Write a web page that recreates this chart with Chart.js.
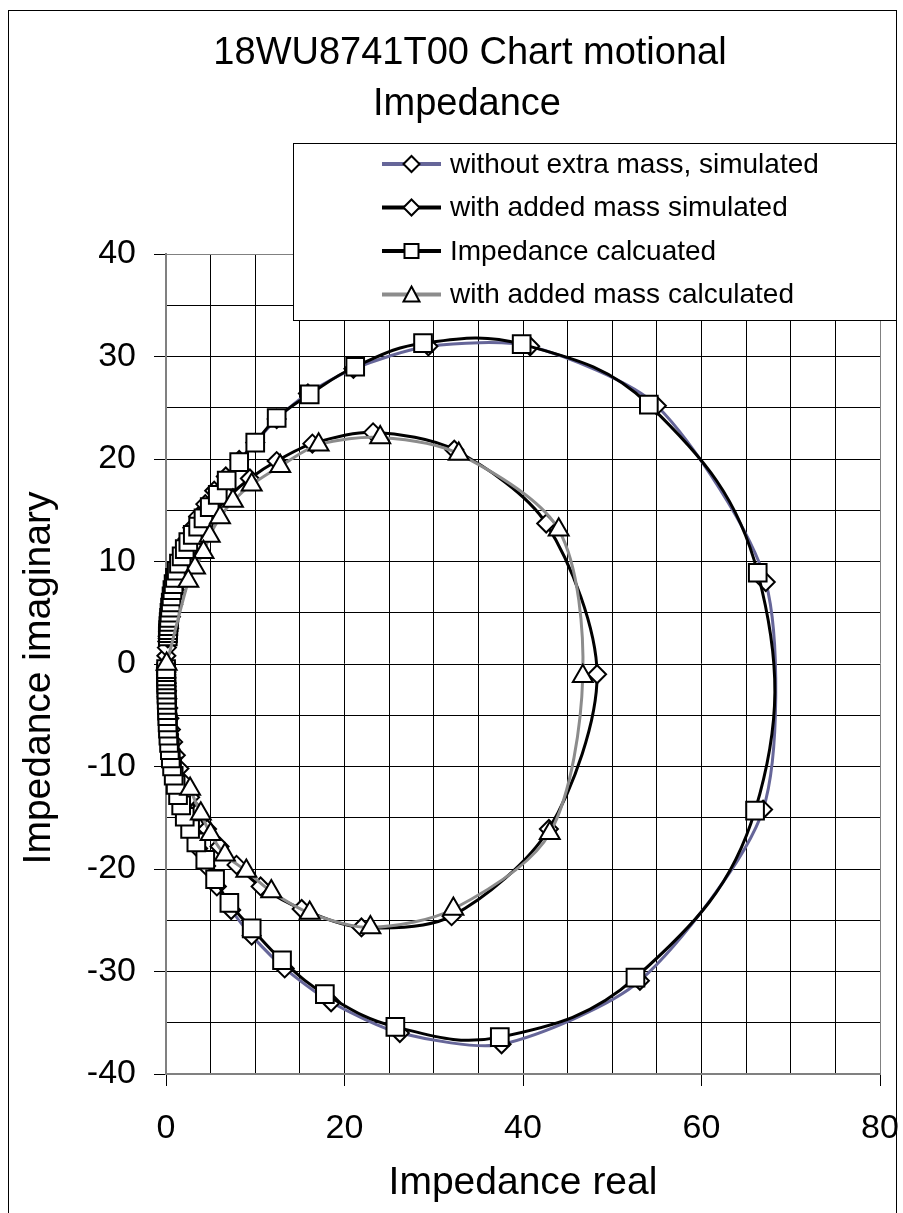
<!DOCTYPE html>
<html>
<head>
<meta charset="utf-8">
<title>18WU8741T00 Chart motional Impedance</title>
<script src="https://cdn.jsdelivr.net/npm/chart.js@4.4.1/dist/chart.umd.min.js"></script>
<style>
  html, body { margin: 0; padding: 0; background: #ffffff; }
  #wrap { width: 903px; height: 1213px; }
</style>
</head>
<body>
<div id="wrap"><canvas id="impChart" width="903" height="1213"></canvas></div>
<script>
const chartTitle = ["18WU8741T00 Chart motional", "Impedance"];
const xAxisTitle = "Impedance real";
const yAxisTitle = "Impedance imaginary";
const seriesNames = [
  "without extra mass, simulated",
  "with added mass simulated",
  "Impedance calcuated",
  "with added mass calculated"
];
const xLabelValues = [0, 20, 40, 60, 80];
const yLabelValues = [-40, -30, -20, -10, 0, 10, 20, 30, 40];

// [real, imaginary] pairs, in sweep order
const noMassSim = [
  [0.15, 2.2], [0.19, 2.7], [0.24, 3.2], [0.3, 3.8], [0.37, 4.4], [0.46, 5.1], [0.57, 5.8],
  [0.7, 6.6], [0.86, 7.4], [1.05, 8.3], [1.3, 9.2], [1.6, 10.2], [1.95, 11.2], [2.4, 12.2],
  [2.95, 13.3], [3.6, 14.4], [4.4, 15.6], [5.4, 16.9], [6.7, 18.3], [8.2, 19.9], [10.0, 21.6],
  [12.4, 23.9], [15.9, 26.4], [21.0, 28.8], [29.4, 31.0], [40.8, 31.0], [55.0, 25.2], [67.2, 8.0],
  [66.9, -14.2], [53.1, -30.9], [37.6, -37.1], [26.2, -36.0], [18.5, -33.0], [13.3, -29.7],
  [9.6, -26.5], [7.3, -24.0], [5.7, -21.7], [4.5, -19.7], [3.6, -18.0], [2.9, -16.5], [2.3, -15.2],
  [1.85, -14.0], [1.5, -12.9], [1.2, -11.9], [0.97, -11.0], [0.78, -10.1], [0.63, -9.2], [0.5, -8.4],
  [0.4, -7.6], [0.32, -6.9], [0.25, -6.2], [0.2, -5.5], [0.16, -4.9], [0.12, -4.3], [0.1, -3.7],
  [0.08, -3.2], [0.06, -2.7], [0.05, -2.2], [0.04, -1.8], [0.03, -1.4], [0.02, -1.0], [0.02, -0.7],
  [0.01, -0.4]
];

const addedMassSim = [
  [0.04, 0.8], [0.1, 1.6], [0.2, 2.5], [0.35, 3.5], [0.55, 4.6], [0.8, 5.8], [1.15, 7.1],
  [1.6, 8.5], [2.2, 10.0], [3.0, 11.5], [4.0, 13.0], [5.3, 14.6], [7.0, 16.3], [9.4, 18.1],
  [12.4, 19.8], [16.4, 21.5], [23.2, 22.6], [32.3, 20.9], [42.6, 13.7], [48.3, -1.0],
  [42.9, -16.1], [32.0, -24.6], [21.9, -25.7], [15.2, -23.9], [10.6, -21.7], [7.9, -19.6],
  [6.0, -17.8], [4.6, -16.1], [3.5, -14.5], [2.7, -13.0], [2.0, -11.6], [1.5, -10.2], [1.1, -8.9],
  [0.8, -7.6], [0.55, -6.4], [0.38, -5.3], [0.25, -4.3], [0.16, -3.4], [0.1, -2.6], [0.06, -1.9],
  [0.04, -1.3], [0.03, -0.8], [0.02, -0.4]
];

const impCalc = [
  [0.2, 2.7], [0.22, 3.0], [0.24, 3.3], [0.27, 3.7], [0.3, 4.1], [0.34, 4.5], [0.39, 5.0],
  [0.45, 5.5], [0.53, 6.0], [0.62, 6.6], [0.72, 7.2], [0.85, 7.8], [1.0, 8.4], [1.2, 9.1],
  [1.45, 9.8], [1.75, 10.5], [2.1, 11.2], [2.5, 11.9], [3.0, 12.6], [3.6, 13.4], [4.2, 14.2],
  [4.9, 15.3], [5.8, 16.5], [6.8, 17.9], [8.2, 19.7], [10.0, 21.6], [12.4, 24.0], [16.1, 26.3],
  [21.2, 29.0], [28.8, 31.3], [39.85, 31.2], [54.1, 25.3], [66.3, 8.9], [66.0, -14.3],
  [52.6, -30.6], [37.4, -36.4], [25.7, -35.4], [17.8, -32.2], [13.0, -28.9], [9.6, -25.8],
  [7.1, -23.3], [5.5, -21.0], [4.4, -19.1], [3.4, -17.4], [2.7, -16.1], [2.1, -14.9], [1.7, -13.8],
  [1.35, -12.8], [1.08, -11.8], [0.86, -10.9], [0.68, -10.0], [0.54, -9.2], [0.43, -8.4],
  [0.34, -7.7], [0.27, -7.0], [0.22, -6.3], [0.18, -5.7], [0.15, -5.1], [0.12, -4.5], [0.1, -4.0],
  [0.08, -3.5], [0.06, -3.0], [0.05, -2.5], [0.04, -2.0], [0.03, -1.6], [0.02, -1.2], [0.02, -0.8],
  [0.01, -0.5]
];

const addedMassCalc = [
  [2.7, -12.2], [3.9, -14.6], [5.0, -16.6], [6.6, -18.6], [9.0, -20.2], [11.8, -22.2],
  [16.1, -24.3], [22.9, -25.7], [32.2, -23.9], [43.0, -16.5], [46.7, -1.2], [44.0, 13.1],
  [32.8, 20.5], [24.0, 22.1], [17.1, 21.4], [12.8, 19.3], [9.6, 17.5], [7.5, 15.9], [6.05, 14.3],
  [4.9, 12.5], [4.2, 10.9], [3.25, 9.4], [2.5, 8.1], [0.07, 0.0]
];

const fontFamily = "'Liberation Sans', Arial, Helvetica, sans-serif";
const blueGray = "#666699";
const midGray = "#8c8c8c";
const axisGray = "#808080";

const toPoints = (pairs) => pairs.map(([x, y]) => ({ x, y }));

function makeSeries(label, pairs, lineColor, pointStyle, radius, tension, order) {
  return {
    label,
    data: toPoints(pairs),
    showLine: true,
    borderColor: lineColor,
    borderWidth: 3,
    tension,
    pointStyle,
    pointRadius: radius,
    pointBackgroundColor: "#ffffff",
    pointBorderColor: "#000000",
    pointBorderWidth: 2,
    clip: false,
    order
  };
}

// legend marker shapes, drawn by hand so the line runs through the symbol
function legendMarker(ctx, style, x, y) {
  ctx.beginPath();
  if (style === "rectRot") {
    ctx.moveTo(x - 8, y);
    ctx.lineTo(x, y - 8);
    ctx.lineTo(x + 8, y);
    ctx.lineTo(x, y + 8);
  } else if (style === "rect") {
    ctx.rect(x - 7, y - 7, 14, 14);
  } else {
    ctx.moveTo(x, y - 8);
    ctx.lineTo(x + 8, y + 7);
    ctx.lineTo(x - 8, y + 7);
  }
  ctx.closePath();
  ctx.fillStyle = "#ffffff";
  ctx.fill();
  ctx.lineWidth = 2;
  ctx.strokeStyle = "#000000";
  ctx.stroke();
}

const excelFrame = {
  id: "excelFrame",
  beforeDraw(chart) {
    const ctx = chart.ctx;
    ctx.save();
    ctx.fillStyle = "#ffffff";
    ctx.fillRect(0, 0, chart.width, chart.height);
    ctx.restore();
  },
  afterDraw(chart) {
    const ctx = chart.ctx;
    ctx.save();

    // outer chart border
    ctx.strokeStyle = "#000000";
    ctx.lineWidth = 1;
    ctx.strokeRect(8.5, 10.5, 888, 1230);

    // title
    ctx.fillStyle = "#000000";
    ctx.font = "38px " + fontFamily;
    ctx.textAlign = "center";
    ctx.textBaseline = "alphabetic";
    ctx.fillText(chartTitle[0], 470, 64);
    ctx.fillText(chartTitle[1], 467, 115);

    // y axis title, Excel centres it a little below the plot middle
    ctx.save();
    ctx.translate(39, 678);
    ctx.rotate(-Math.PI / 2);
    ctx.font = "39px " + fontFamily;
    ctx.textBaseline = "middle";
    ctx.fillText(yAxisTitle, 0, 0);
    ctx.restore();

    // legend box
    const box = { x: 293.5, y: 143.5, w: 603, h: 177 };
    ctx.fillStyle = "#ffffff";
    ctx.fillRect(box.x, box.y, box.w, box.h);
    ctx.strokeStyle = "#000000";
    ctx.lineWidth = 1;
    ctx.strokeRect(box.x, box.y, box.w, box.h);

    chart.data.datasets.forEach((ds, i) => {
      const y = 164 + i * 43.5;
      ctx.beginPath();
      ctx.moveTo(382, y);
      ctx.lineTo(441, y);
      ctx.strokeStyle = ds.borderColor;
      ctx.lineWidth = 4;
      ctx.stroke();
      legendMarker(ctx, ds.pointStyle, 411.5, y);
      ctx.fillStyle = "#000000";
      ctx.font = "28px " + fontFamily;
      ctx.textAlign = "left";
      ctx.textBaseline = "middle";
      ctx.fillText(ds.label, 450, y + 1);
    });

    ctx.restore();
  }
};

new Chart(document.getElementById("impChart"), {
  type: "scatter",
  data: {
    datasets: [
      makeSeries(seriesNames[0], noMassSim, blueGray, "rectRot", 9, 0.25, 4),
      makeSeries(seriesNames[1], addedMassSim, "#000000", "rectRot", 9, 0.3, 3),
      makeSeries(seriesNames[2], impCalc, "#000000", "rect", 12.5, 0.4, 2),
      makeSeries(seriesNames[3], addedMassCalc, midGray, "triangle", 11.5, 0.3, 1)
    ]
  },
  options: {
    responsive: false,
    devicePixelRatio: 1,
    animation: false,
    events: [],
    layout: {
      padding: { left: 7, right: 23, top: 254, bottom: 0 }
    },
    plugins: {
      legend: { display: false },
      title: { display: false },
      tooltip: { enabled: false }
    },
    scales: {
      x: {
        type: "linear",
        min: 0,
        max: 80,
        border: { color: axisGray, width: 2 },
        grid: {
          lineWidth: 1,
          tickLength: 12,
          color: (c) => (c.tick && (c.tick.value === 0 || c.tick.value === 80)) ? axisGray : "#000000",
          tickColor: (c) => (c.tick && xLabelValues.includes(c.tick.value)) ? "#000000" : "rgba(0,0,0,0)"
        },
        ticks: {
          stepSize: 5,
          autoSkip: false,
          maxRotation: 0,
          padding: 22,
          color: "#000000",
          font: { family: fontFamily, size: 34 },
          callback: (value) => xLabelValues.includes(value) ? String(value) : ""
        },
        title: {
          display: true,
          text: xAxisTitle,
          color: "#000000",
          font: { family: fontFamily, size: 39 },
          padding: { top: 0, bottom: 6 }
        },
        afterFit(scale) {
          scale.height = 139;
          scale.paddingLeft = 0;
          scale.paddingRight = 0;
        }
      },
      y: {
        type: "linear",
        min: -40,
        max: 40,
        border: { color: axisGray, width: 2 },
        grid: {
          lineWidth: 1,
          tickLength: 12,
          color: (c) => (c.tick && Math.abs(c.tick.value) === 40) ? axisGray : "#000000",
          tickColor: (c) => (c.tick && yLabelValues.includes(c.tick.value)) ? "#000000" : "rgba(0,0,0,0)"
        },
        ticks: {
          stepSize: 5,
          autoSkip: false,
          padding: 18,
          color: "#000000",
          font: { family: fontFamily, size: 34 },
          callback: (value) => yLabelValues.includes(value) ? String(value) : ""
        },
        title: { display: false },
        afterFit(scale) {
          scale.width = 159;
          scale.paddingTop = 0;
          scale.paddingBottom = 0;
        }
      }
    }
  },
  plugins: [excelFrame]
});
</script>
</body>
</html>
